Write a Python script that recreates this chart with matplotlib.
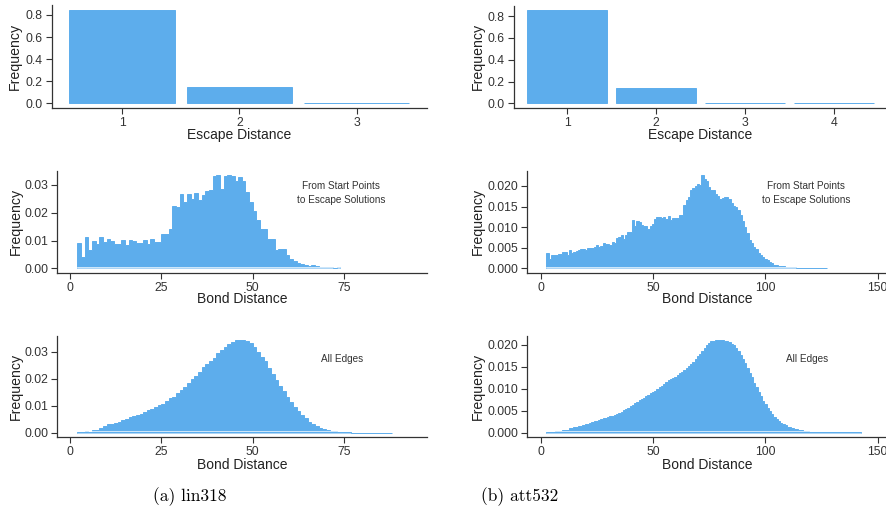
import numpy as np
import matplotlib
matplotlib.use("Agg")
import matplotlib.pyplot as plt
from matplotlib.ticker import FormatStrFormatter

plt.rcParams['font.family'] = ['Liberation Sans', 'DejaVu Sans']

# ---- data (frequencies, histogram values in units of 1e-3) ----
esc_lin = [1, 2, 3]
esc_lin_freq = [0.845, 0.148, 0.005]
esc_att = [1, 2, 3, 4]
esc_att_freq = [0.855, 0.140, 0.004, 0.003]

# lin318, from start points, bins of width 1 starting at 2
lin_start_first = 2
lin_start = [9.2, 4.2, 11.3, 6.7, 9.9, 8.8, 11.2, 9.6, 10.5, 9.8,
             8.8, 8.8, 10.2, 8.5, 10.2, 9.9, 9.0, 9.2, 10.2, 8.8,
             10.4, 9.3, 9.6, 12.3, 12.3, 14.0, 22.5, 22.2, 26.8, 24.0,
             26.8, 24.8, 27.0, 24.7, 26.5, 27.8, 28.2, 33.3, 33.6, 28.4,
             33.3, 33.4, 33.3, 31.5, 32.8, 31.3, 27.5, 23.8, 20.5, 17.5,
             14.2, 14.0, 10.5, 10.5, 6.5, 7.0, 6.8, 4.8, 3.5, 2.5,
             1.8, 1.5, 1.2, 0.8, 1.1, 0.8, 0.4, 0.6, 0.6, 0.6, 0.0, 0.3]

# lin318, all edges, starting at 2
lin_all_first = 2
lin_all = [0.15, 0.15, 0.6, 0.25, 1.0, 1.0, 1.8, 2.6, 3.1, 3.3,
           3.7, 4.1, 4.7, 5.1, 5.8, 6.2, 6.5, 7.0, 7.5, 8.3,
           8.8, 9.6, 10.2, 10.6, 11.7, 12.7, 13.3, 14.6, 15.8, 17.0,
           18.3, 19.8, 21.1, 22.6, 24.2, 25.3, 26.5, 27.5, 29.4, 30.6,
           31.6, 32.8, 33.7, 34.2, 34.3, 34.3, 34.1, 33.1, 31.9, 30.0,
           28.1, 26.5, 23.8, 21.6, 19.5, 17.4, 15.4, 13.3, 11.5, 9.6,
           8.0, 6.5, 5.3, 4.1, 3.2, 2.6, 1.9, 1.4, 1.0, 0.6,
           0.5, 0.3, 0.2, 0.2, 0.15, 0.05, 0.05, 0.05, 0.05, 0.05,
           0.05, 0.05, 0.05, 0.05, 0.05, 0.05]

# att532, from start points, starting at 2.5
att_start_first = 2.5
att_start = [3.7, 2.2, 3.2, 3.2, 3.3, 3.5, 3.5, 4.0, 4.0, 3.2,
             4.5, 3.8, 4.0, 4.2, 4.5, 4.7, 4.6, 4.5, 4.9, 4.9,
             5.0, 5.2, 5.7, 5.1, 5.3, 6.2, 5.9, 5.8, 5.7, 6.4,
             6.2, 7.3, 7.5, 8.1, 7.1, 8.1, 8.8, 8.8, 11.7, 10.3,
             11.5, 11.3, 10.5, 10.3, 10.3, 9.5, 10.3, 10.8, 11.9, 12.5,
             12.5, 12.1, 12.5, 11.9, 12.7, 11.7, 12.1, 12.1, 12.1, 13.0,
             13.0, 15.4, 16.6, 17.2, 19.0, 19.5, 20.0, 20.5, 20.3, 22.7,
             21.6, 21.2, 19.8, 19.0, 19.0, 18.1, 17.6, 16.8, 17.0, 17.4,
             17.4, 16.8, 15.8, 15.2, 14.8, 14.2, 13.0, 11.6, 10.1, 8.5,
             6.9, 6.2, 5.1, 4.6, 3.8, 3.2, 2.8, 2.2, 2.0, 1.5,
             1.2, 0.8, 0.8, 0.65, 0.6, 0.5, 0.4, 0.4, 0.3, 0.25,
             0.2, 0.15, 0.15, 0.1, 0.1, 0.1, 0.1, 0.1, 0.1, 0.1,
             0.05, 0.0, 0.0, 0.0, 0.05]

# att532, all edges, starting at 2.5
att_all_first = 2.5
att_all = [0.1, 0.15, 0.25, 0.25, 0.3, 0.4, 0.4, 0.5, 0.6, 0.7,
           1.0, 1.0, 1.2, 1.3, 1.5, 1.6, 1.8, 2.0, 2.0, 2.3,
           2.4, 2.6, 2.7, 2.8, 3.1, 3.3, 3.4, 3.6, 3.7, 3.9,
           4.1, 4.3, 4.6, 4.8, 5.1, 5.4, 5.7, 6.1, 6.3, 6.8,
           7.1, 7.4, 7.7, 8.0, 8.4, 8.6, 9.0, 9.3, 9.6, 9.9,
           10.3, 10.7, 11.1, 11.6, 11.9, 12.2, 12.4, 12.8, 13.1, 13.5,
           13.8, 14.2, 14.7, 15.2, 15.6, 16.1, 16.8, 17.4, 18.0, 18.6,
           19.3, 20.0, 20.5, 20.8, 21.0, 21.1, 21.1, 21.1, 21.1, 21.0,
           20.9, 20.6, 20.3, 19.9, 19.3, 18.6, 17.8, 16.9, 15.8, 14.8,
           13.7, 12.6, 11.4, 10.3, 9.2, 8.3, 7.3, 6.5, 5.6, 4.9,
           4.2, 3.6, 3.1, 2.6, 2.3, 2.0, 1.7, 1.4, 1.25, 1.1,
           0.9, 0.8, 0.6, 0.5, 0.4, 0.35, 0.3, 0.25, 0.2, 0.15,
           0.1, 0.05, 0.05, 0.05, 0.05, 0.05, 0.05, 0.05, 0.05, 0.05,
           0.05, 0.05, 0.05, 0.05, 0.05, 0.05, 0.05, 0.05, 0.05, 0.05]

BLUE = '#5DADEC'
DARK = '#333333'
W, H = 887, 522

fig = plt.figure(figsize=(W / 100, H / 100), dpi=100)


def make_ax(l, r, t, b):
    ax = fig.add_axes([l / W, 1 - b / H, (r - l) / W, (b - t) / H])
    for s in ['top', 'right']:
        ax.spines[s].set_visible(False)
    for s in ['left', 'bottom']:
        ax.spines[s].set_linewidth(0.9)
        ax.spines[s].set_color(DARK)
    ax.tick_params(direction='out', length=4.5, width=0.8, color=DARK,
                   labelsize=8.8, labelcolor=DARK, pad=2)
    return ax


def labels(ax, l, r, t, b, xlabel, xoff, yoff):
    ax.set_xlabel(xlabel, fontsize=10, va='center', color='#222222')
    ax.xaxis.set_label_coords(0.5, -xoff / (b - t))
    ax.set_ylabel('Frequency', fontsize=10.2, va='center', color='#222222')
    ax.yaxis.set_label_coords(-yoff / (r - l), 0.5)


def hist(ax, first, vals, xlim, ylim, xticks, yticks, yfmt, note, note_xy,
         box):
    l, r, t, b = box
    v = np.array(vals) / 1000.0
    edges = first + np.arange(len(v) + 1)
    ax.stairs(v, edges, fill=True, facecolor=BLUE, edgecolor=BLUE,
              linewidth=0.7)
    ax.set_xlim(*xlim)
    ax.set_ylim(*ylim)
    eps = (ylim[1] - ylim[0]) * 1.3 / (b - t)
    ax.plot([edges[0], edges[-1]], [eps, eps], color='white', lw=0.5)
    ax.set_xticks(xticks)
    ax.set_yticks(yticks)
    ax.yaxis.set_major_formatter(FormatStrFormatter(yfmt))
    fig.text(note_xy[0] / W, 1 - note_xy[1] / H, note, ha='center',
             va='center', fontsize=7.2, color='#333333', linespacing=1.55)


# top row: escape distance
box = (51.7, 427, 5, 107.7)
ax = make_ax(*box)
ax.bar(esc_lin, esc_lin_freq, width=0.9, color=BLUE, edgecolor=BLUE,
       linewidth=0.7)
ax.set_xlim(0.4, 3.6)
ax.set_ylim(-0.04, 0.89)
ax.set_xticks(esc_lin)
ax.set_yticks([0, 0.2, 0.4, 0.6, 0.8])
ax.yaxis.set_major_formatter(FormatStrFormatter('%.1f'))
labels(ax, *box, 'Escape Distance', 27.8, 36.7)

box = (514, 887, 6, 107.7)
ax = make_ax(*box)
ax.bar(esc_att, esc_att_freq, width=0.9, color=BLUE, edgecolor=BLUE,
       linewidth=0.7)
ax.set_xlim(0.4, 4.6)
ax.set_ylim(-0.04, 0.892)
ax.set_xticks(esc_att)
ax.set_yticks([0, 0.2, 0.4, 0.6, 0.8])
ax.yaxis.set_major_formatter(FormatStrFormatter('%.1f'))
labels(ax, *box, 'Escape Distance', 27.8, 36)

# middle row: from start points
note1 = 'From Start Points\nto Escape Solutions'
box = (57.3, 426.7, 171, 272.7)
ax = make_ax(*box)
hist(ax, lin_start_first, lin_start, (-3.5, 97.6), (-0.00158, 0.035),
     [0, 25, 50, 75], [0, 0.01, 0.02, 0.03], '%.2f', note1, (341, 193), box)
labels(ax, *box, 'Bond Distance', 26.6, 41.3)

box = (527.3, 887, 170.7, 272.7)
ax = make_ax(*box)
hist(ax, att_start_first, att_start, (-6.0, 154.1), (-0.00107, 0.0237),
     [0, 50, 100, 150], [0, 0.005, 0.01, 0.015, 0.02], '%.3f', note1,
     (806, 193), box)
labels(ax, *box, 'Bond Distance', 26.6, 49)

# bottom row: all edges
box = (57.3, 426.7, 335.7, 437.3)
ax = make_ax(*box)
hist(ax, lin_all_first, lin_all, (-3.5, 97.6), (-0.0017, 0.0359),
     [0, 25, 50, 75], [0, 0.01, 0.02, 0.03], '%.2f', 'All Edges',
     (341.7, 359), box)
labels(ax, *box, 'Bond Distance', 27.5, 41.3)

box = (527.3, 887, 335.7, 437.3)
ax = make_ax(*box)
hist(ax, att_all_first, att_all, (-6.0, 154.1), (-0.00105, 0.0221),
     [0, 50, 100, 150], [0, 0.005, 0.01, 0.015, 0.02], '%.3f', 'All Edges',
     (806.7, 359), box)
labels(ax, *box, 'Bond Distance', 27.5, 49)

# captions
fig.text(190 / W, 1 - 497 / H, '(a) lin318', ha='center', va='center',
         family='cmr10', fontsize=12.5)
fig.text(520 / W, 1 - 497 / H, '(b) att532', ha='center', va='center',
         family='cmr10', fontsize=12.5)

fig.savefig('out.png', dpi=100)
